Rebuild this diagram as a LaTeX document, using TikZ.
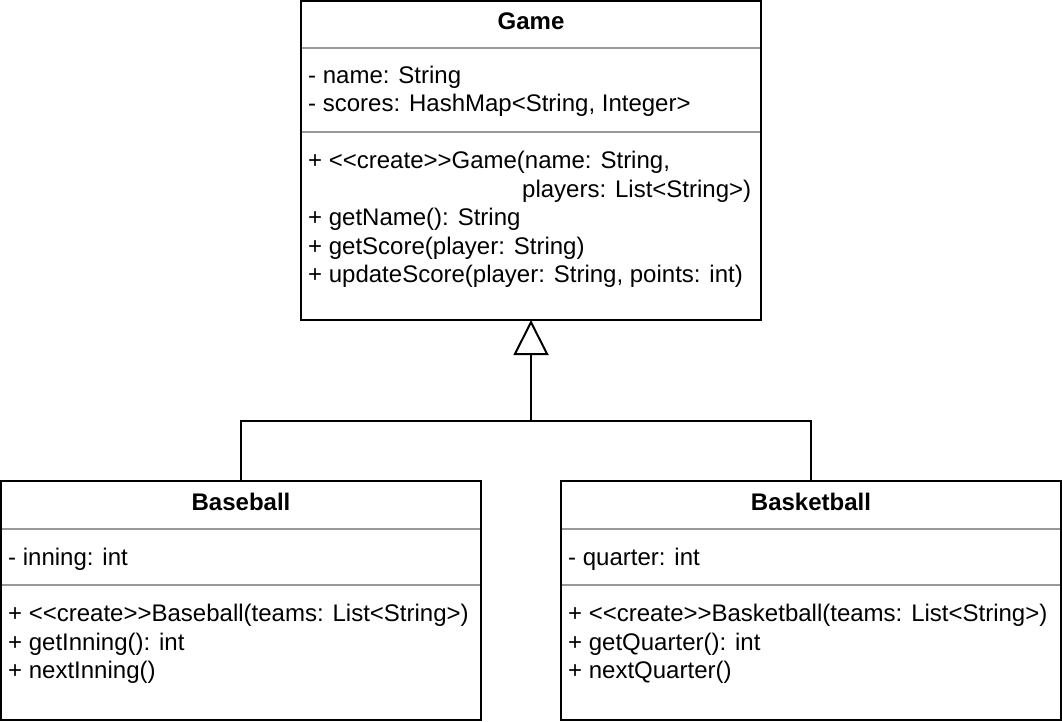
\documentclass[tikz,border=0pt]{standalone}
\usepackage{fontspec}
\setmainfont{Liberation Sans}[Ligatures=TeXOff]
\usetikzlibrary{arrows.meta}
\begin{document}
\begin{tikzpicture}[x=1pt,y=-1pt,
  classbox/.style={draw=black, line width=2pt, fill=white, anchor=north west, inner sep=0pt, outer sep=0pt},
  sepline/.style={draw=black!40, line width=2pt},
  title/.style={font=\fontsize{24}{28.8}\selectfont\bfseries, anchor=base, inner sep=0pt},
  member/.style={font=\fontsize{24}{28.8}\selectfont, anchor=base west, inner sep=0pt},
  conn/.style={draw=black, line width=2pt}
]
\useasboundingbox (0,0) rectangle (1062,722);
\fill[white] (0,0) rectangle (1062,722);

% Game
\node[classbox, minimum width=460pt, minimum height=319pt] (game) at (301,1) {};
\draw[sepline] (302,48.5) -- (760,48.5);
\draw[sepline] (302,132.5) -- (760,132.5);
\node[title] (gtitle) at (531,30) {Game};
\node[member] (ga1) at (308,83.5) {- name: String};
\node[member] (ga2) at (308,112) {- scores: HashMap<String, Integer>};
\node[member] (gm1) at (308,168.5) {+ <<create>>Game(name: String,};
\node[member] (gm1b) at (522,197) {players: List<String>)};
\node[member] (gm2) at (308,225.5) {+ getName(): String};
\node[member] (gm3) at (308,254) {+ getScore(player: String)};
\node[member] (gm4) at (308,282.5) {+ updateScore(player: String, points: int)};

% Baseball
\node[classbox, minimum width=480pt, minimum height=239pt] (baseball) at (1,481) {};
\draw[sepline] (2,529) -- (480,529);
\draw[sepline] (2,585) -- (480,585);
\node[title] (btitle) at (241,510) {Baseball};
\node[member] (ba1) at (8,565) {- inning: int};
\node[member] (bm1) at (8,621.5) {+ <<create>>Baseball(teams: List<String>)};
\node[member] (bm2) at (8,650) {+ getInning(): int};
\node[member] (bm3) at (8,678.5) {+ nextInning()};

% Basketball
\node[classbox, minimum width=500pt, minimum height=239pt] (basketball) at (561,481) {};
\draw[sepline] (562,529) -- (1060,529);
\draw[sepline] (562,585) -- (1060,585);
\node[title] (kt) at (811,510) {Basketball};
\node[member] (ka1) at (568,565) {- quarter: int};
\node[member] (km1) at (568,621.5) {+ <<create>>Basketball(teams: List<String>)};
\node[member] (km2) at (568,650) {+ getQuarter(): int};
\node[member] (km3) at (568,678.5) {+ nextQuarter()};

% Inheritance
\coordinate (junction) at (531,420.5);
\draw[conn] (baseball.north) |- (junction) -| (basketball.north);
\draw[conn, -{Triangle[open, length=35pt, width=35pt, fill=white]}] (junction) -- (game.south);
\end{tikzpicture}
\end{document}
